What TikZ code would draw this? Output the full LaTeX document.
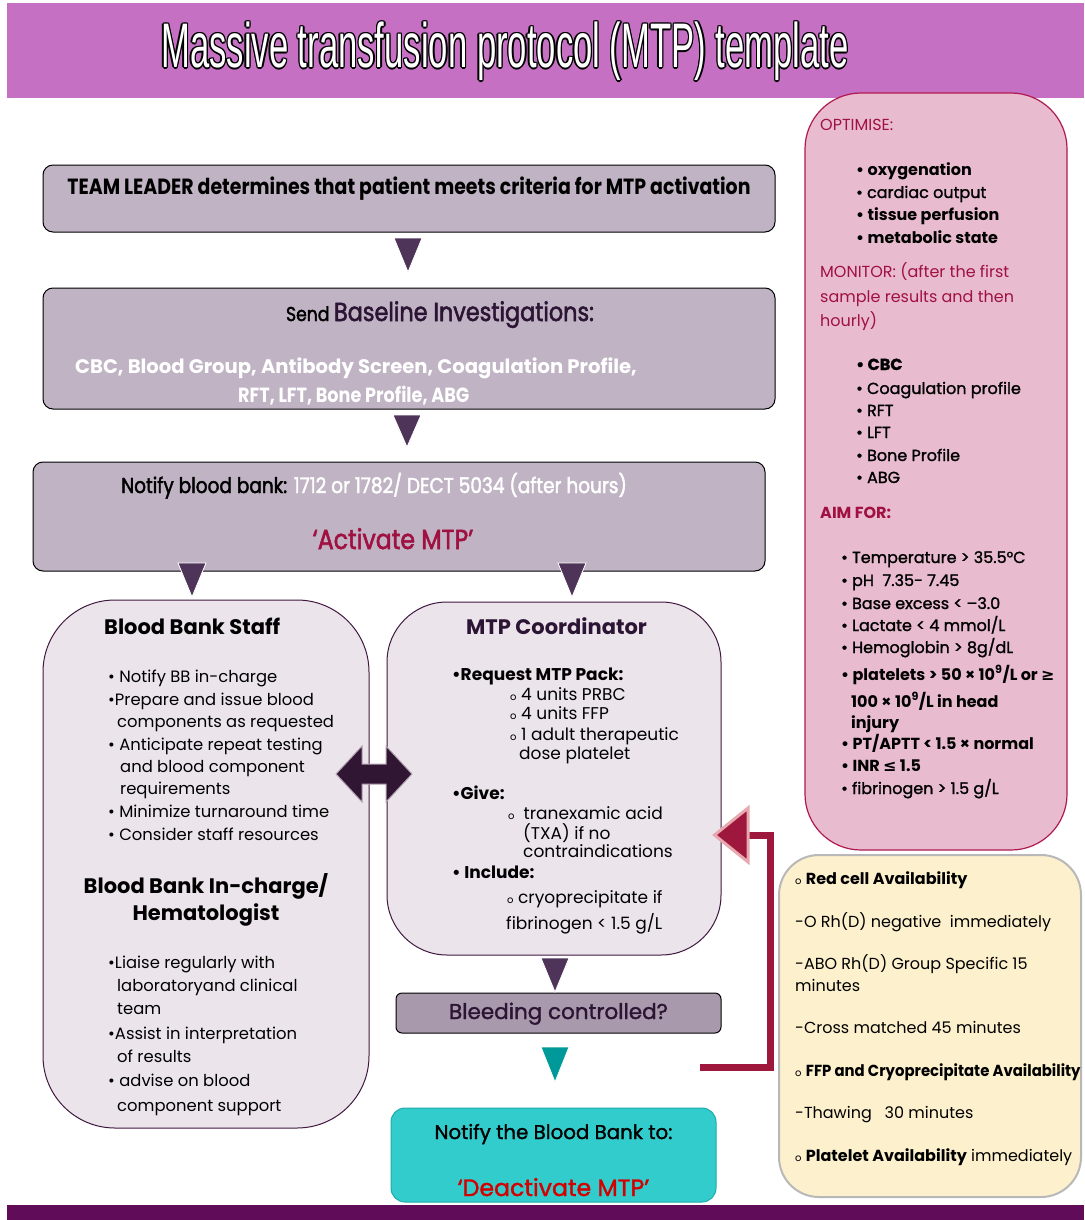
\documentclass[tikz,border=0pt]{standalone}
\usepackage{fontspec}
\setmainfont{Poppins}
\newfontfamily\titlefont[FakeStretch=0.55]{Liberation Sans}
\newfontfamily\medfont[FakeStretch=0.86,FakeBold=2]{Poppins}
\newfontfamily\condbold[FakeStretch=0.86]{Poppins Bold}
\newfontfamily\semifont[FakeBold=1.4]{Poppins}
\newfontfamily\tightfont[FakeStretch=0.93]{Poppins}
\newfontfamily\symfont{DejaVu Sans}
\usetikzlibrary{calc}

\definecolor{banner}{RGB}{198,112,196}
\definecolor{footbar}{RGB}{96,12,88}
\definecolor{flowgrey}{RGB}{192,180,196}
\definecolor{rolefill}{RGB}{235,229,235}
\definecolor{roleline}{RGB}{64,24,64}
\definecolor{triclr}{RGB}{78,52,88}
\definecolor{dblclr}{RGB}{48,22,50}
\definecolor{crimson}{RGB}{160,16,64}
\definecolor{loopred}{RGB}{158,24,62}
\definecolor{looprim}{RGB}{232,168,176}
\definecolor{bleedfill}{RGB}{168,154,172}
\definecolor{tealtri}{RGB}{0,153,153}
\definecolor{tealfill}{RGB}{51,204,204}
\definecolor{tealline}{RGB}{30,172,172}
\definecolor{pinkfill}{RGB}{232,188,206}
\definecolor{pinkline}{RGB}{176,24,80}
\definecolor{creamfill}{RGB}{253,240,204}
\definecolor{creamline}{RGB}{184,184,184}
\definecolor{deepplum}{RGB}{44,20,52}
\definecolor{alertred}{RGB}{210,0,0}

\newcommand\bodysize{\fontsize{17}{20}\selectfont}
\newcommand\staffsize{\fontsize{16.4}{20}\selectfont}
\newcommand\sidesize{\fontsize{16}{19}\selectfont}
\newcommand\hollow{{\fontsize{10}{10}\selectfont o}}

\begin{document}
\begin{tikzpicture}[x=1pt,y=-1pt,
  flowbox/.style={draw=black, line width=1pt, fill=flowgrey, rounded corners=10pt, inner sep=0pt},
  rolebox/.style={draw=roleline, line width=1pt, fill=rolefill, inner sep=0pt},
  ln/.style={anchor=base west, inner sep=0pt, font=\bodysize},
  stl/.style={anchor=base west, inner sep=0pt, font=\staffsize},
  sl/.style={anchor=base west, inner sep=0pt, font=\sidesize},
  ctr/.style={anchor=base, inner sep=0pt},
  tri/.style={fill=triclr, draw=white, line width=0.8pt}]

\useasboundingbox (0,0) rectangle (1084,1220);
\fill[white] (0,0) rectangle (1084,1220);

% title banner and footer bar
\fill[banner] (7,3) rectangle (1084,98);
\fill[footbar] (7,1205) rectangle (1084,1220);
\foreach \dx/\dy in {-1.4/0,1.4/0,0/-1.4,0/1.4,-1/-1,1/1,-1/1,1/-1}
  \node[ctr, font=\titlefont\fontsize{63}{63}\selectfont, text=black] at ($(505,68)+(\dx,\dy)$) {Massive transfusion protocol (MTP) template};
\node[ctr, font=\titlefont\fontsize{63}{63}\selectfont, text=white] (title) at (505,68) {Massive transfusion protocol (MTP) template};

% main flow boxes
\node[flowbox, minimum width=732, minimum height=67] (lead) at (409,198.5) {};
\node[ctr, font=\condbold\fontsize{22}{22}\selectfont] (leadtxt) at (409,194) {TEAM LEADER determines that patient meets criteria for MTP activation};

\node[flowbox, minimum width=732, minimum height=121] (base) at (409,348.5) {};
\node[ctr, font=\medfont] (basetxt) at (440,321) {{\fontsize{20}{20}\selectfont Send }{\fontsize{26}{26}\selectfont\color{deepplum}Baseline Investigations:}};
\node[anchor=base west, inner sep=0pt, font=\bfseries\fontsize{19.6}{19.6}\selectfont, text=white] (basel1) at (75,373) {CBC, Blood Group, Antibody Screen, Coagulation Profile,};
\node[anchor=base west, inner sep=0pt, font=\condbold\fontsize{20.5}{20.5}\selectfont, text=white] (basel2) at (238,402) {RFT, LFT, Bone Profile, ABG};

\node[flowbox, minimum width=732, minimum height=109] (notify) at (399,516.5) {};
\node[anchor=base west, inner sep=0pt, font=\medfont\fontsize{21.5}{21.5}\selectfont] (notifytxt) at (121,493) {Notify blood bank: \textcolor{white}{1712 or 1782/ DECT 5034 (after hours)}};
\node[ctr, font=\medfont\fontsize{27.5}{27.5}\selectfont, text=crimson] (activate) at (393,549) {‘Activate MTP’};

% role boxes
\node[rolebox, rounded corners=72pt, minimum width=326, minimum height=528] (bbs) at (206,864) {};
\node[rolebox, rounded corners=60pt, minimum width=334, minimum height=353] (coord) at (554,778.5) {};

\node[flowbox, rounded corners=6pt, fill=bleedfill, minimum width=325, minimum height=40] (bleed) at (558.5,1013) {};
\node[ctr, font=\semifont\fontsize{21.5}{21.5}\selectfont, text=deepplum] (bleedtxt) at (558.5,1019) {Bleeding controlled?};

\node[draw=tealline, fill=tealfill, line width=1pt, rounded corners=14pt, minimum width=325, minimum height=94, inner sep=0pt] (deact) at (553.5,1155) {};
\node[ctr, font=\semifont\fontsize{19.8}{19.8}\selectfont] (deacttxt1) at (553.5,1139) {Notify the Blood Bank to:};
\node[ctr, font=\semifont\fontsize{23.6}{23.6}\selectfont, text=alertred] (deacttxt2) at (553.5,1196) {‘Deactivate MTP’};

% side panels
\node[draw=pinkline, fill=pinkfill, line width=1.2pt, rounded corners=56pt, minimum width=262, minimum height=757, inner sep=0pt] (side) at (936,471.5) {};
\node[draw=creamline, fill=creamfill, line width=2pt, rounded corners=40pt, minimum width=302, minimum height=342, inner sep=0pt] (avail) at (930,1026) {};

% downward arrowheads between the flow boxes
\fill[tri] (394,238) -- (422,238) -- (408,272) -- cycle;
\fill[tri] (393,415) -- (421,415) -- (407,447) -- cycle;
\fill[tri] (178,563) -- (206,563) -- (192,597) -- cycle;
\fill[tri] (558,563) -- (586,563) -- (572,597) -- cycle;
\fill[tri] (541,958) -- (569,958) -- (555,992) -- cycle;
\fill[fill=tealtri, draw=white, line width=0.8pt] (541,1047) -- (569,1047) -- (555,1082) -- cycle;

% two-way arrow between staff and coordinator
\filldraw[fill=dblclr, draw=roleline!40, line width=1pt]
  (336,774) -- (362,746) -- (362,764) -- (386,764) -- (386,746) -- (412,774)
  -- (386,802) -- (386,784) -- (362,784) -- (362,802) -- cycle;

% loop back from the bleeding check to the coordinator
\coordinate (loopstart) at (700,1067);
\coordinate (loopcorner1) at (770,1067);
\coordinate (loopcorner2) at (770,835);
\draw[loopred, line width=7pt] (loopstart) -- (loopcorner1) -- (loopcorner2) -- (744,835);
\filldraw[fill=loopred, draw=looprim, line width=3pt, line join=miter] (coord.east |- 0,835) ++(-7,0) -- (748,808) -- (748,862) -- cycle;

% --- Blood Bank Staff text
\node[anchor=base west, inner sep=0pt, font=\bfseries\fontsize{21}{21}\selectfont] (bbshead) at (104,634) {Blood Bank Staff};
\foreach \x/\y/\t [count=\i] in {
  108/682/{\textbullet\ Notify BB in-charge},
  108/705/{\textbullet Prepare and issue blood},
  117/727/{components as requested},
  108/750/{\textbullet\ Anticipate repeat testing},
  120/772/{and blood component},
  120/794/{requirements},
  108/817/{\textbullet\ Minimize turnaround time},
  108/840/{\textbullet\ Consider staff resources}}
  \node[stl] (bbsline\i) at (\x,\y) {\t};
\node[ctr, font=\bfseries\fontsize{21}{21}\selectfont] (bbihead1) at (206,893) {Blood Bank In-charge/};
\node[ctr, font=\bfseries\fontsize{21}{21}\selectfont] (bbihead2) at (206,920) {Hematologist};
\foreach \x/\y/\t [count=\i] in {
  108/968/{\textbullet Liaise regularly with},
  117/991/{laboratoryand clinical},
  117/1014/{team},
  108/1039/{\textbullet Assist in interpretation},
  117/1062/{of results},
  108/1086/{\textbullet\ advise on blood},
  117/1111/{component support}}
  \node[stl] (bbiline\i) at (\x,\y) {\t};

% --- MTP Coordinator text
\node[anchor=base west, inner sep=0pt, font=\bfseries\fontsize{21}{21}\selectfont, text=deepplum] (coordhead) at (466,634) {MTP Coordinator};
\foreach \x/\y/\t [count=\i] in {
  452/680/{\textbf{\textbullet Request MTP Pack:}},
  510/700/{\hollow\ 4 units PRBC},
  510/719/{\hollow\ 4 units FFP},
  510/740/{\hollow\ 1 adult therapeutic},
  519/759/{dose platelet},
  452/799/{\textbf{\textbullet Give:}},
  508/819/{\hollow\ \ tranexamic acid},
  523/839/{(TXA) if no},
  523/857/{contraindications},
  452/878/{\textbf{\textbullet\ Include:}},
  507/903/{\hollow\ cryoprecipitate if},
  506/929/{fibrinogen < 1.5 g/L}}
  \node[ln] (coordline\i) at (\x,\y) {\t};

% --- side panel text
\node[sl, text=crimson] (optimise) at (820,131) {OPTIMISE:};
\foreach \y/\t [count=\i] in {
  175/{\textbf{\textbullet\ oxygenation}},
  198/{\semifont\textbullet\ cardiac output},
  220/{\textbf{\textbullet\ tissue perfusion}},
  243/{\textbf{\textbullet\ metabolic state}}}
  \node[sl] (optline\i) at (856,\y) {\t};
\foreach \y/\t [count=\i] in {
  277/{MONITOR: (after the first},
  302/{sample results and then},
  326/{hourly)}}
  \node[sl, text=crimson] (monhead\i) at (820,\y) {\t};
\foreach \y/\t [count=\i] in {
  370/{\textbf{\textbullet\ CBC}},
  394/{\textbullet\ Coagulation profile},
  416/{\textbullet\ RFT},
  438/{\textbullet\ LFT},
  461/{\textbullet\ Bone Profile},
  483/{\textbullet\ ABG}}
  \node[sl, font=\semifont\sidesize] (monline\i) at (856,\y) {\t};
\node[sl, text=crimson, font=\sidesize\bfseries] (aimhead) at (820,518) {AIM FOR:};
\foreach \x/\y/\t [count=\i] in {
  841/563/{\semifont\textbullet\ Temperature > 35.5°C},
  841/586/{\semifont\textbullet\ pH\ \ 7.35- 7.45},
  841/609/{\semifont\textbullet\ Base excess < –3.0},
  841/631/{\semifont\textbullet\ Lactate < 4 mmol/L},
  841/653/{\semifont\textbullet\ Hemoglobin > 8g/dL},
  841/680/{\textbf{\textbullet\ platelets > 50 × 10\textsuperscript{9}/L or {\symfont ≥}}},
  851/707/{\textbf{100 × 10\textsuperscript{9}/L in head}},
  851/728/{\textbf{injury}},
  841/749/{\textbf{\textbullet\ PT/APTT < 1.5 × normal}},
  841/771/{\textbf{\textbullet\ INR {\symfont ≤} 1.5}},
  841/794/{\semifont\textbullet\ fibrinogen > 1.5 g/L}}
  \node[sl] (aimline\i) at (\x,\y) {\t};

% --- availability panel text
\foreach \y/\t [count=\i] in {
  884/{\hollow\ \textbf{Red cell Availability}},
  927/{-O Rh(D) negative\ \ immediately},
  969/{-ABO Rh(D) Group Specific 15},
  991/{minutes},
  1033/{-Cross matched 45 minutes},
  1076/{\hollow\ {\tightfont\bfseries FFP and Cryoprecipitate Availability}},
  1118/{-Thawing\ \ \ 30 minutes},
  1161/{\hollow\ \textbf{Platelet Availability} immediately}}
  \node[sl] (availline\i) at (795,\y) {\t};

\end{tikzpicture}
\end{document}
